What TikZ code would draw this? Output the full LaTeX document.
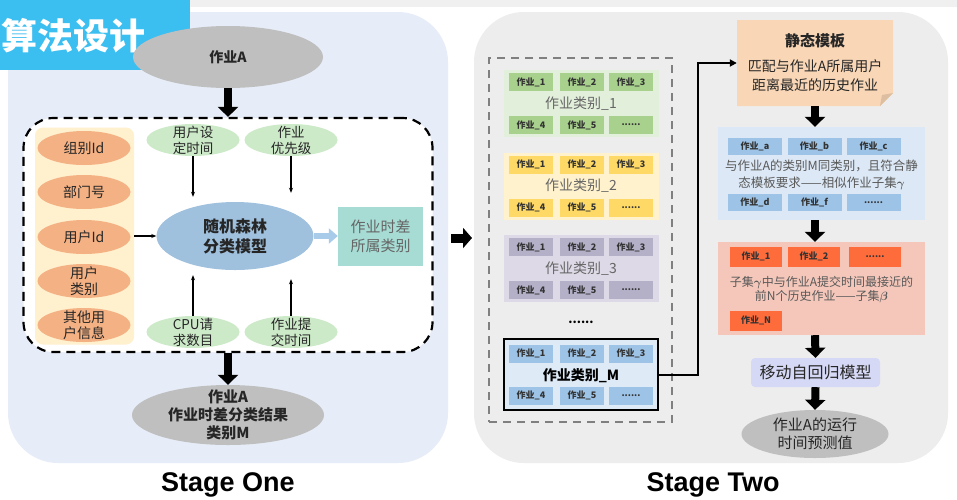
\documentclass[tikz,border=0pt]{standalone}
\usepackage{amsmath}
\usepackage{fontspec}
\setmainfont{Noto Sans CJK SC}
\newfontfamily\stagefont{Liberation Sans}
\usetikzlibrary{positioning,arrows.meta,shapes.geometric}
\definecolor{titleblue}{RGB}{59,190,240}
\definecolor{topgray}{RGB}{240,240,240}
\definecolor{panelblue}{RGB}{231,237,248}
\definecolor{panelgray}{RGB}{237,237,237}
\definecolor{ovalgray}{RGB}{191,191,191}
\definecolor{cream}{RGB}{255,240,206}
\definecolor{ovalorange}{RGB}{244,177,131}
\definecolor{ovalgreen}{RGB}{204,233,200}
\definecolor{ovalblue}{RGB}{159,193,222}
\definecolor{arrowblue}{RGB}{167,203,232}
\definecolor{clsteal}{RGB}{166,220,212}
\definecolor{catgreen}{RGB}{226,239,218}
\definecolor{jobgreen}{RGB}{169,209,142}
\definecolor{catyellow}{RGB}{255,242,204}
\definecolor{jobyellow}{RGB}{255,217,102}
\definecolor{catpurple}{RGB}{221,217,230}
\definecolor{jobpurple}{RGB}{180,176,200}
\definecolor{catblue}{RGB}{222,235,247}
\definecolor{jobblue}{RGB}{157,195,230}
\definecolor{peach}{RGB}{248,214,182}
\definecolor{peachfold}{RGB}{222,190,160}
\definecolor{simblue}{RGB}{220,232,245}
\definecolor{subred}{RGB}{244,199,186}
\definecolor{jobred}{RGB}{255,108,60}
\definecolor{lavender}{RGB}{214,217,245}
\newcommand\sixdots{......}

\begin{document}
\begin{tikzpicture}[x=1pt,y=-1pt,
  every node/.append style={text=black!85},
  oval/.style={ellipse,inner sep=0pt,align=center},
  jobbox/.style={rectangle,inner sep=0pt,minimum width=44pt,minimum height=18pt,text=black!80,font=\fontsize{9}{9}\selectfont\bfseries},
  catlabel/.style={font=\fontsize{14}{14}\selectfont,text=black!60},
  bigarrow/.style={line width=8pt,-{Triangle[length=10pt,width=20pt]}},
  smallarrow/.style={line width=1.2pt,-{Stealth[length=5pt,width=4pt]}}]
\useasboundingbox (0,0) rectangle (957,499);
\fill[white] (0,0) rectangle (957,499);
\fill[topgray] (190,0) rectangle (957,7);
\fill[panelblue,rounded corners=50pt] (8,12) rectangle (448,463);
\fill[panelgray,rounded corners=50pt] (474,12) rectangle (948,463);
\fill[titleblue] (0,0) rectangle (190,70);
\node[anchor=west,inner sep=0pt,text=white,font=\fontsize{36}{36}\selectfont\bfseries] (title) at (1,36) {算法设计};

% stage one
\node[oval,fill=ovalgray,minimum width=190pt,minimum height=62pt,font=\fontsize{14}{16}\selectfont\bfseries] (jobA) at (228,57) {作业A};
\node[draw=black,line width=2.2pt,dash pattern=on 9pt off 6pt,fill=white,rounded corners=30pt,minimum width=409pt,minimum height=234pt] (frame) at (228,235) {};
\draw[bigarrow] (jobA.south) -- (frame.north);
\node[fill=cream,rounded corners=8pt,minimum width=99pt,minimum height=217pt] (attrs) at (84.5,236) {};
\foreach \y/\t [count=\i] in {148/组别Id,192/部门号,237/用户Id,281/{用户\\类别},325/{其他用\\户信息}}
  \node[oval,fill=ovalorange,minimum width=93pt,minimum height=34pt,inner ysep=-4pt,font=\fontsize{14}{16}\selectfont] (attr\i) at (84,\y) {\t};
\foreach \x/\y/\t [count=\i] in {193/140/{用户设\\定时间},291/140/{作业\\优先级},193/332/{CPU请\\求数目},291/332/{作业提\\交时间}}
  \node[oval,fill=ovalgreen,minimum width=93pt,minimum height=32pt,inner ysep=-5pt,font=\fontsize{13.5}{16}\selectfont] (feat\i) at (\x,\y) {\t};
\node[oval,fill=ovalblue,minimum width=157pt,minimum height=68pt,font=\fontsize{16}{20}\selectfont\bfseries] (rf) at (235,236) {随机森林\\分类模型};
\draw[smallarrow] (attrs.east) -- (rf.west);
\draw[smallarrow,shorten >=5pt] (feat1.south) -- (feat1.south |- rf.north);
\draw[smallarrow,shorten >=9pt] (feat2.south) -- (feat2.south |- rf.north);
\draw[smallarrow,shorten >=5pt] (feat3.north) -- (feat3.north |- rf.south);
\draw[smallarrow,shorten >=9pt] (feat4.north) -- (feat4.north |- rf.south);
\node[fill=clsteal,minimum width=85pt,minimum height=59pt,align=center,text=black!60,font=\fontsize{15}{19}\selectfont] (cls) at (380.5,236) {作业时差\\所属类别};
\draw[line width=6pt,arrowblue,-{Triangle[length=9pt,width=15pt]}] (rf.east) -- (cls.west);
\node[oval,fill=ovalgray,minimum width=192pt,minimum height=60pt,inner ysep=-6pt,font=\fontsize{15}{18}\selectfont\bfseries] (res) at (228,415) {作业A\\作业时差分类结果\\类别M};
\draw[bigarrow] (frame.south) -- (res.north);
\node[font=\stagefont\fontsize{27}{27}\selectfont\bfseries,text=black] (stage1) at (228,485) {Stage One};

\coordinate (gapL) at (451,238);
\coordinate (gapR) at (472,238);
\draw[line width=9pt,-{Triangle[length=9pt,width=20pt]}] (gapL) -- (gapR);

% stage two
\node[draw=black!50,line width=1.6pt,dash pattern=on 8pt off 6pt,minimum width=183pt,minimum height=364pt] (pool) at (580.5,240) {};
\foreach \i/\y/\bg/\bx in {1/103.5/catgreen/jobgreen,2/186/catyellow/jobyellow,3/268.5/catpurple/jobpurple}{
  \node[fill=\bg,minimum width=155pt,minimum height=67pt] (cat\i) at (581,\y) {};
  \node[catlabel] (catlab\i) at (581,\y) {作业类别\_\i};
  \foreach \x/\t [count=\j] in {531/作业\_1,582/作业\_2,631/作业\_3}
    \node[jobbox,fill=\bx] (job\i\j) at (\x,\y-21.5) {\t};
  \foreach \x/\t [count=\j] in {531/作业\_4,582/作业\_5,631/\sixdots}
    \node[jobbox,fill=\bx] (jobb\i\j) at (\x,\y+21.5) {\t};
}
\node[font=\fontsize{12}{12}\selectfont\bfseries,text=black] (more) at (581,322) {\sixdots};
\node[draw=black,line width=2pt,fill=catblue,minimum width=154pt,minimum height=71pt] (catM) at (581,374.5) {};
\node[font=\fontsize{14}{14}\selectfont\bfseries,text=black] (catlabM) at (581,376) {作业类别\_M};
\foreach \x/\t [count=\j] in {531/作业\_1,582/作业\_2,631/作业\_3}
  \node[jobbox,fill=jobblue] (jobM\j) at (\x,353.5) {\t};
\foreach \x/\t [count=\j] in {531/作业\_4,582/作业\_5,631/\sixdots}
  \node[jobbox,fill=jobblue] (jobbM\j) at (\x,395.5) {\t};

\fill[peach] (737,20) -- (893,20) -- (893,93) -- (880,106) -- (737,106) -- cycle;
\fill[peachfold] (893,93) -- (880,106) -- (882,95) -- cycle;
\node[minimum width=156pt,minimum height=86pt,align=center,font=\fontsize{14}{19}\selectfont] (tmpl) at (815,63) {\textbf{\fontsize{15}{15}\selectfont 静态模板}\\[6pt]匹配与作业A所属用户\\距离最近的历史作业};
\coordinate (bend) at (698,374.5);
\draw[line width=2pt,-{Triangle[length=7pt,width=7pt]}] (catM.east) -- (bend) |- (tmpl.west);

\node[fill=simblue,minimum width=207pt,minimum height=93pt] (sim) at (821.5,173.5) {};
\foreach \x/\t [count=\j] in {755/作业\_a,814.5/作业\_b,873.5/作业\_c}
  \node[jobbox,fill=jobblue,minimum width=54pt,minimum height=17pt] (simA\j) at (\x,146.5) {\t};
\foreach \x/\t [count=\j] in {755/作业\_d,814.5/作业\_f,873.5/\sixdots}
  \node[jobbox,fill=jobblue,minimum width=54pt,minimum height=17pt] (simB\j) at (\x,202.5) {\t};
\node[align=center,font=\fontsize{12.5}{17}\selectfont,text=black!65] (simtext) at (821.5,174.5) {与作业A的类别M同类别，且符合静\\态模板要求——相似作业子集$\boldsymbol{\gamma}$};

\node[fill=subred,minimum width=207pt,minimum height=93pt] (sub) at (821.5,288.5) {};
\foreach \x/\t [count=\j] in {756/作业\_1,814/作业\_2,875/\sixdots}
  \node[jobbox,fill=jobred,minimum width=52pt,minimum height=20pt] (subA\j) at (\x,256.5) {\t};
\node[jobbox,fill=jobred,minimum width=52pt,minimum height=20pt] (subN) at (756,320.5) {作业\_N};
\node[align=center,font=\fontsize{12}{14}\selectfont,text=black!65] (subtext) at (821.5,289.5) {子集$\boldsymbol{\gamma}$中与作业A提交时间最接近的\\前N个历史作业——子集$\boldsymbol{\beta}$};

\node[fill=lavender,rounded corners=4pt,minimum width=129pt,minimum height=29pt,font=\fontsize{16}{16}\selectfont] (arma) at (815.5,372.5) {移动自回归模型};
\node[oval,fill=ovalgray,minimum width=147pt,minimum height=48pt,inner ysep=-4pt,font=\fontsize{15}{18}\selectfont] (pred) at (815,434) {作业A的运行\\时间预测值};
\draw[bigarrow] (tmpl.south) -- (tmpl.south |- sim.north);
\draw[bigarrow] (tmpl.south |- sim.south) -- (tmpl.south |- sub.north);
\draw[bigarrow] (tmpl.south |- sub.south) -- (arma.north);
\draw[bigarrow] (arma.south) -- (pred.north);
\node[font=\stagefont\fontsize{27}{27}\selectfont\bfseries,text=black] (stage2) at (713,485) {Stage Two};
\end{tikzpicture}
\end{document}
